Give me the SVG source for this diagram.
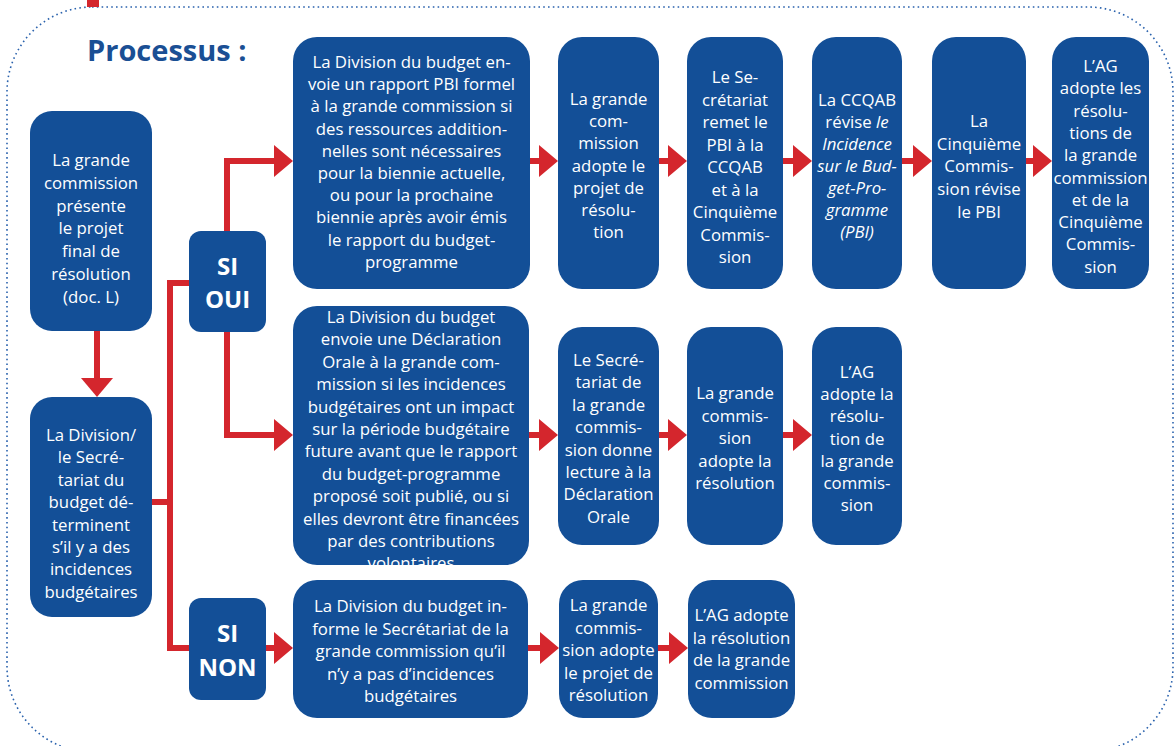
<svg xmlns="http://www.w3.org/2000/svg" width="1176" height="746" viewBox="0 0 1176 746">
<style>
.box{fill:#134f97}
.t{font-family:"Open Sans","Liberation Sans",sans-serif;font-size:16.8px;fill:#ffffff;text-anchor:middle}
.b{font-family:"Open Sans","Liberation Sans",sans-serif;font-size:24px;font-weight:bold;fill:#ffffff;text-anchor:middle}
.i{font-style:italic}
.c{fill:none;stroke:#d4262d;stroke-width:6}
</style>
<defs>
<marker id="ah" markerUnits="userSpaceOnUse" markerWidth="20" markerHeight="32" refX="0" refY="16" orient="auto" overflow="visible">
<path d="M0,0 L19,16 L0,32 z" fill="#d4262d"/>
</marker>
</defs>
<rect x="7" y="7" width="1166" height="745" rx="85" ry="85" fill="none" stroke="#2a62ad" stroke-width="1.6" stroke-dasharray="1.6 3.2"/>
<rect x="87" y="0" width="12" height="7" fill="#d4262d"/>
<text x="87" y="61" font-family="Open Sans, Liberation Sans, sans-serif" font-weight="bold" font-size="29" fill="#1a4f94">Processus :</text>

<g id="connectors">
<path class="c" d="M97,331 V378" marker-end="url(#ah)"/>
<path class="c" d="M152,502 H170"/>
<path class="c" d="M189,283 H170 V648 H189"/>
<path class="c" d="M227,231 V161 H274" marker-end="url(#ah)"/>
<path class="c" d="M227,332 V435 H274" marker-end="url(#ah)"/>
<path class="c" d="M266,648 H274" marker-end="url(#ah)"/>
<path class="c" d="M530,161 H539" marker-end="url(#ah)"/>
<path class="c" d="M659,161 H668" marker-end="url(#ah)"/>
<path class="c" d="M783,161 H793" marker-end="url(#ah)"/>
<path class="c" d="M902,161 H913" marker-end="url(#ah)"/>
<path class="c" d="M1026,161 H1033" marker-end="url(#ah)"/>
<path class="c" d="M529,435 H539" marker-end="url(#ah)"/>
<path class="c" d="M659,435 H668" marker-end="url(#ah)"/>
<path class="c" d="M783,435 H793" marker-end="url(#ah)"/>
<path class="c" d="M528,648 H540" marker-end="url(#ah)"/>
<path class="c" d="M658,648 H669" marker-end="url(#ah)"/>
</g>

<g id="n1">
<rect class="box" x="30" y="111" width="122" height="220" rx="22"/>
<text class="t"><tspan x="91" y="166">La grande</tspan><tspan x="91" y="188.8">commission</tspan><tspan x="91" y="211.6">présente</tspan><tspan x="91" y="234.4">le projet</tspan><tspan x="91" y="257.2">final de</tspan><tspan x="91" y="280">résolution</tspan><tspan x="91" y="302.8">(doc. L)</tspan></text>
</g>
<g id="n2">
<rect class="box" x="30" y="397" width="122" height="220" rx="22"/>
<text class="t"><tspan x="91" y="441">La Division/</tspan><tspan x="91" y="463.4">le Secré-</tspan><tspan x="91" y="485.8">tariat du</tspan><tspan x="91" y="508.2">budget dé-</tspan><tspan x="91" y="530.6">terminent</tspan><tspan x="91" y="553">s’il y a des</tspan><tspan x="91" y="575.4">incidences</tspan><tspan x="91" y="597.8">budgétaires</tspan></text>
</g>
<g id="si-oui">
<rect class="box" x="189" y="231" width="77" height="101" rx="12"/>
<text class="b"><tspan x="227.5" y="274.5">SI</tspan><tspan x="227.5" y="307.5">OUI</tspan></text>
</g>
<g id="si-non">
<rect class="box" x="189" y="598" width="77" height="102" rx="12"/>
<text class="b"><tspan x="227.5" y="641.5">SI</tspan><tspan x="227.5" y="675.5">NON</tspan></text>
</g>

<g id="a">
<rect class="box" x="293" y="37" width="237" height="252" rx="24"/>
<text class="t"><tspan x="411.5" y="68">La Division du budget en-</tspan><tspan x="411.5" y="90.2">voie un rapport PBI formel</tspan><tspan x="411.5" y="112.4">à la grande commission si</tspan><tspan x="411.5" y="134.6">des ressources addition-</tspan><tspan x="411.5" y="156.8">nelles sont nécessaires</tspan><tspan x="411.5" y="179">pour la biennie actuelle,</tspan><tspan x="411.5" y="201.2">ou pour la prochaine</tspan><tspan x="411.5" y="223.4">biennie après avoir émis</tspan><tspan x="411.5" y="245.6">le rapport du budget-</tspan><tspan x="411.5" y="267.8">programme</tspan></text>
</g>
<g id="b">
<rect class="box" x="558" y="37" width="101" height="252" rx="24"/>
<text class="t"><tspan x="608.5" y="105">La grande</tspan><tspan x="608.5" y="127.2">com-</tspan><tspan x="608.5" y="149.4">mission</tspan><tspan x="608.5" y="171.6">adopte le</tspan><tspan x="608.5" y="193.8">projet de</tspan><tspan x="608.5" y="216">résolu-</tspan><tspan x="608.5" y="238.2">tion</tspan></text>
</g>
<g id="c">
<rect class="box" x="687" y="37" width="96" height="252" rx="24"/>
<text class="t"><tspan x="735" y="83">Le Se-</tspan><tspan x="735" y="105.5">crétariat</tspan><tspan x="735" y="128">remet le</tspan><tspan x="735" y="150.5">PBI à la</tspan><tspan x="735" y="173">CCQAB</tspan><tspan x="735" y="195.5">et à la</tspan><tspan x="735" y="218">Cinquième</tspan><tspan x="735" y="240.5">Commis-</tspan><tspan x="735" y="263">sion</tspan></text>
</g>
<g id="d">
<rect class="box" x="812" y="37" width="90" height="252" rx="24"/>
<text class="t"><tspan x="857" y="106">La CCQAB</tspan><tspan x="857" y="128">révise <tspan class="i">le</tspan></tspan><tspan class="i" x="857" y="150">Incidence</tspan><tspan class="i" x="857" y="172">sur le Bud-</tspan><tspan class="i" x="857" y="194">get-Pro-</tspan><tspan class="i" x="857" y="216">gramme</tspan><tspan class="i" x="857" y="238">(PBI)</tspan></text>
</g>
<g id="e">
<rect class="box" x="932" y="37" width="94" height="252" rx="24"/>
<text class="t"><tspan x="979" y="127">La</tspan><tspan x="979" y="149.7">Cinquième</tspan><tspan x="979" y="172.4">Commis-</tspan><tspan x="979" y="195.1">sion révise</tspan><tspan x="979" y="217.8">le PBI</tspan></text>
</g>
<g id="f">
<rect class="box" x="1052" y="37" width="97" height="252" rx="24"/>
<text class="t"><tspan x="1100.5" y="72">L’AG</tspan><tspan x="1100.5" y="94.3">adopte les</tspan><tspan x="1100.5" y="116.6">résolu-</tspan><tspan x="1100.5" y="138.9">tions de</tspan><tspan x="1100.5" y="161.2">la grande</tspan><tspan x="1100.5" y="183.5">commission</tspan><tspan x="1100.5" y="205.8">et de la</tspan><tspan x="1100.5" y="228.1">Cinquième</tspan><tspan x="1100.5" y="250.4">Commis-</tspan><tspan x="1100.5" y="272.7">sion</tspan></text>
</g>

<g id="g">
<rect class="box" x="293" y="306" width="236" height="259" rx="24"/>
<text class="t"><tspan x="411" y="323">La Division du budget</tspan><tspan x="411" y="345.4">envoie une Déclaration</tspan><tspan x="411" y="367.8">Orale à la grande com-</tspan><tspan x="411" y="390.2">mission si les incidences</tspan><tspan x="411" y="412.6">budgétaires ont un impact</tspan><tspan x="411" y="435">sur la période budgétaire</tspan><tspan x="411" y="457.4">future avant que le rapport</tspan><tspan x="411" y="479.8">du budget-programme</tspan><tspan x="411" y="502.2">proposé soit publié, ou si</tspan><tspan x="411" y="524.6">elles devront être financées</tspan><tspan x="411" y="547">par des contributions</tspan><tspan x="411" y="569.4">volontaires</tspan></text>
</g>
<g id="h">
<rect class="box" x="558" y="327" width="101" height="218" rx="24"/>
<text class="t"><tspan x="608.5" y="366">Le Secré-</tspan><tspan x="608.5" y="388.4">tariat de</tspan><tspan x="608.5" y="410.8">la grande</tspan><tspan x="608.5" y="433.2">commis-</tspan><tspan x="608.5" y="455.6">sion donne</tspan><tspan x="608.5" y="478">lecture à la</tspan><tspan x="608.5" y="500.4">Déclaration</tspan><tspan x="608.5" y="522.8">Orale</tspan></text>
</g>
<g id="i">
<rect class="box" x="687" y="327" width="96" height="218" rx="24"/>
<text class="t"><tspan x="735" y="399">La grande</tspan><tspan x="735" y="421.5">commis-</tspan><tspan x="735" y="444">sion</tspan><tspan x="735" y="466.5">adopte la</tspan><tspan x="735" y="489">résolution</tspan></text>
</g>
<g id="j">
<rect class="box" x="812" y="327" width="90" height="218" rx="24"/>
<text class="t"><tspan x="857" y="378">L’AG</tspan><tspan x="857" y="400.2">adopte la</tspan><tspan x="857" y="422.4">résolu-</tspan><tspan x="857" y="444.6">tion de</tspan><tspan x="857" y="466.8">la grande</tspan><tspan x="857" y="489">commis-</tspan><tspan x="857" y="511.2">sion</tspan></text>
</g>

<g id="k">
<rect class="box" x="293" y="580" width="235" height="138" rx="24"/>
<text class="t"><tspan x="410.5" y="612">La Division du budget in-</tspan><tspan x="410.5" y="634.5">forme le Secrétariat de la</tspan><tspan x="410.5" y="657">grande commission qu’il</tspan><tspan x="410.5" y="679.5">n’y a pas d’incidences</tspan><tspan x="410.5" y="702">budgétaires</tspan></text>
</g>
<g id="l">
<rect class="box" x="559" y="580" width="99" height="138" rx="24"/>
<text class="t"><tspan x="608.5" y="611">La grande</tspan><tspan x="608.5" y="633.5">commis-</tspan><tspan x="608.5" y="656">sion adopte</tspan><tspan x="608.5" y="678.5">le projet de</tspan><tspan x="608.5" y="701">résolution</tspan></text>
</g>
<g id="m">
<rect class="box" x="688" y="580" width="107" height="138" rx="24"/>
<text class="t"><tspan x="741.5" y="621">L’AG adopte</tspan><tspan x="741.5" y="643.7">la résolution</tspan><tspan x="741.5" y="666.4">de la grande</tspan><tspan x="741.5" y="689.1">commission</tspan></text>
</g>
</svg>
